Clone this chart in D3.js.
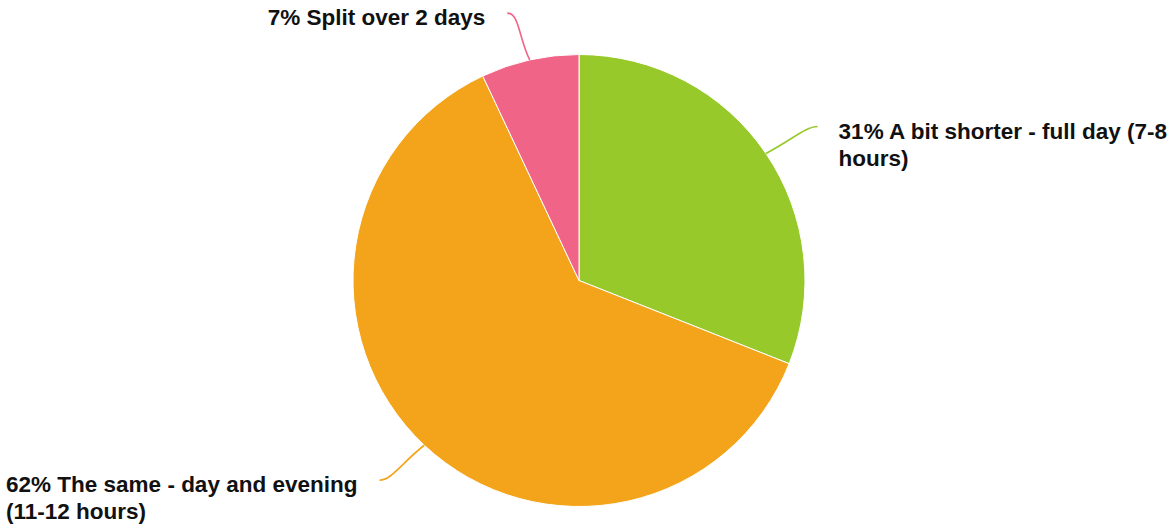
<!DOCTYPE html>
<html>
<head>
<meta charset="utf-8">
<script src="https://cdn.jsdelivr.net/npm/d3@7"></script>
<style>
  html, body { margin: 0; padding: 0; background: #fff; }
  svg { display: block; font-family: "Liberation Sans", Arial, Helvetica, sans-serif; }
</style>
</head>
<body>
<div id="chart"></div>
<script>
// chart data
const categories = ["A bit shorter - full day (7-8 hours)", "The same - day and evening (11-12 hours)", "Split over 2 days"];
const values = [31, 62, 7];
const labelLines = [
  ["31% A bit shorter - full day (7-8", "hours)"],
  ["62% The same - day and evening", "(11-12 hours)"],
  ["7% Split over 2 days"]
];
const colors = ["#97c92b", "#f4a41a", "#f06587"];

const width = 1171, height = 529;
const cx = 579, cy = 280.5;
const radius = 226;

let svg = d3.select("#chart")
  .append("svg")
  .attr("width", width)
  .attr("height", height);

let g = svg.append("g")
  .attr("transform", `translate(${cx}, ${cy})`);

let data = categories.map(function(c, i) { return {name: c, value: values[i], lines: labelLines[i], color: colors[i]}; });

const pie = d3.pie().sort(null).value(function(d) { return d.value; });
const arcs = pie(data);

const path = d3.arc().outerRadius(radius).innerRadius(0);

g.selectAll("path.slice")
  .data(arcs)
  .enter().append("path")
  .attr("class", "slice")
  .attr("d", path)
  .attr("fill", function(d) { return d.data.color; })
  .attr("stroke", "#fff")
  .attr("stroke-width", 1);

// point on a circle of radius rr at angle a (d3 angles: 0 = 12 o'clock, clockwise)
function polar(a, rr) { return [Math.sin(a) * rr, -Math.cos(a) * rr]; }

arcs.forEach(function(d) {
  let mid = (d.startAngle + d.endAngle) / 2;
  let side = Math.sin(mid) >= 0 ? 1 : -1;
  let p0 = polar(mid, radius);
  let p3 = polar(mid, radius + 48);
  p3[0] += side * 12;
  let p1 = [p0[0] + (p3[0] - p0[0]) * 0.5, p0[1] + (p3[1] - p0[1]) * 0.5];
  let p2 = [p3[0] - side * 12, p3[1]];

  let lp = d3.path();
  lp.moveTo(p0[0], p0[1]);
  lp.bezierCurveTo(p1[0], p1[1], p2[0], p2[1], p3[0], p3[1]);
  g.append("path")
    .attr("d", lp.toString())
    .attr("fill", "none")
    .attr("stroke", d.data.color)
    .attr("stroke-width", 1.6);

  let txt = g.append("text")
    .attr("font-size", 22.5)
    .attr("font-weight", "bold")
    .attr("fill", "#111");
  d.data.lines.forEach(function(line, i) {
    txt.append("tspan")
      .attr("dy", i === 0 ? 0 : 27)
      .text(line);
  });
  let maxW = 0;
  txt.selectAll("tspan").each(function() { maxW = Math.max(maxW, this.getComputedTextLength()); });
  let tx = side > 0 ? p3[0] + 21 : p3[0] - 22 - maxW;
  txt.attr("y", p3[1] + 12);
  txt.selectAll("tspan").attr("x", tx);
});
</script>
</body>
</html>
